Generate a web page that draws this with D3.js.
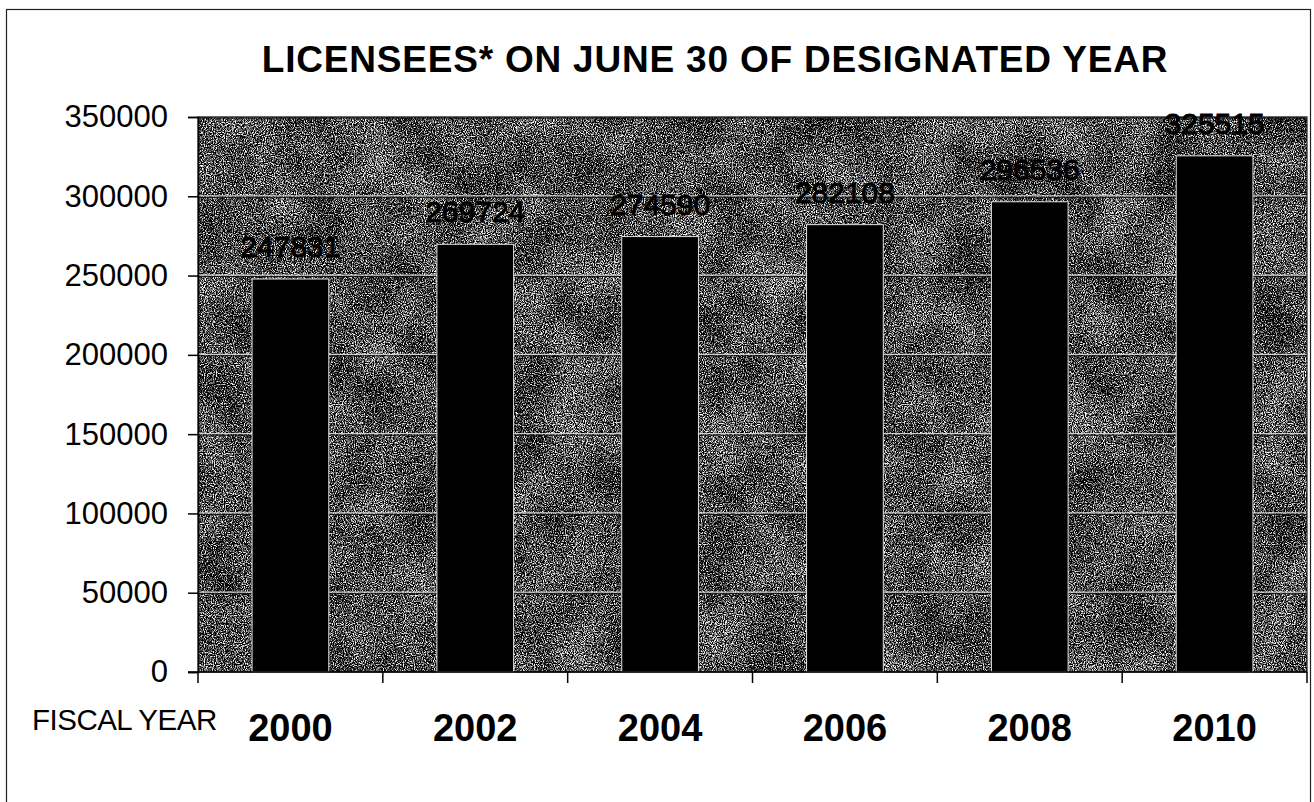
<!DOCTYPE html>
<html>
<head>
<meta charset="utf-8">
<script src="https://cdn.jsdelivr.net/npm/d3@7"></script>
<style>
  html, body { margin: 0; padding: 0; background: #fff; }
  svg { display: block; font-family: "Liberation Sans", Arial, sans-serif; }
</style>
</head>
<body>
<svg id="chart" width="1314" height="802"></svg>
<script>
const title = "LICENSEES* ON JUNE 30 OF DESIGNATED YEAR";
const years = ["2000", "2002", "2004", "2006", "2008", "2010"];
const licensees = [247831, 269724, 274590, 282108, 296536, 325515];
const yTicks = [0, 50000, 100000, 150000, 200000, 250000, 300000, 350000];
const xAxisTitle = "FISCAL YEAR";

const svg = d3.select("#chart");
const plot = { left: 198, right: 1307, top: 117, bottom: 672 };

// noise texture filter for plot background
const defs = svg.append("defs");
const f = defs.append("filter").attr("id", "noise")
  .attr("x", 0).attr("y", 0).attr("width", "100%").attr("height", "100%")
  .attr("color-interpolation-filters", "sRGB");
f.append("feTurbulence").attr("type", "fractalNoise")
  .attr("baseFrequency", "0.9").attr("numOctaves", 2).attr("seed", 3).attr("result", "fine");
f.append("feTurbulence").attr("type", "fractalNoise")
  .attr("baseFrequency", "0.02").attr("numOctaves", 2).attr("seed", 7).attr("result", "coarse");
f.append("feColorMatrix").attr("in", "fine").attr("type", "matrix")
  .attr("values", "1 0 0 0 0  1 0 0 0 0  1 0 0 0 0  0 0 0 0 1").attr("result", "fineG");
f.append("feColorMatrix").attr("in", "coarse").attr("type", "matrix")
  .attr("values", "1 0 0 0 0  1 0 0 0 0  1 0 0 0 0  0 0 0 0 1").attr("result", "coarseG");
f.append("feComposite").attr("in", "fineG").attr("in2", "coarseG")
  .attr("operator", "arithmetic").attr("k1", 0).attr("k2", 1).attr("k3", 0.18).attr("k4", -0.1).attr("result", "mix");
f.append("feColorMatrix").attr("in", "mix").attr("type", "matrix")
  .attr("values", "3.2 0 0 0 -1.3  3.2 0 0 0 -1.3  3.2 0 0 0 -1.3  0 0 0 0 1");

// outer border
svg.append("rect").attr("x", 6.5).attr("y", 9.5).attr("width", 1304).attr("height", 820)
  .attr("fill", "none").attr("stroke", "#222").attr("stroke-width", 1.2);

// title
svg.append("text").attr("x", 715).attr("y", 72).attr("text-anchor", "middle")
  .attr("font-size", 37).attr("font-weight", "bold").attr("fill", "#000")
  .attr("letter-spacing", 0.8).text(title);

const x = d3.scaleBand().domain(years).range([plot.left, plot.right]).paddingInner(0.585).paddingOuter(0.2925);
const y = d3.scaleLinear().domain([0, 350000]).range([plot.bottom, plot.top]);

// plot background
svg.append("rect").attr("x", plot.left).attr("y", plot.top)
  .attr("width", plot.right - plot.left).attr("height", plot.bottom - plot.top)
  .attr("fill", "#888").attr("filter", "url(#noise)");

// gridlines
const grid = svg.append("g");
yTicks.filter(d => d > 0).forEach(d => {
  grid.append("line").attr("x1", plot.left).attr("x2", plot.right)
    .attr("y1", y(d) - 0.5).attr("y2", y(d) - 0.5).attr("stroke", "#d0d0d0").attr("stroke-width", 1.2);
  grid.append("line").attr("x1", plot.left).attr("x2", plot.right)
    .attr("y1", y(d) + 1).attr("y2", y(d) + 1).attr("stroke", "#111").attr("stroke-width", 1);
});

// plot frame
svg.append("rect").attr("x", plot.left).attr("y", plot.top)
  .attr("width", plot.right - plot.left).attr("height", plot.bottom - plot.top)
  .attr("fill", "none").attr("stroke", "#222").attr("stroke-width", 1.2);

// bars
svg.append("g").selectAll("rect").data(licensees).join("rect")
  .attr("x", (d, i) => x(years[i]))
  .attr("y", d => y(d))
  .attr("width", x.bandwidth())
  .attr("height", d => y(0) - y(d))
  .attr("fill", "#000")
  .attr("stroke", "#e0e0e0").attr("stroke-width", 1);

// data labels
svg.append("g").selectAll("text").data(licensees).join("text")
  .attr("x", (d, i) => x(years[i]) + x.bandwidth() / 2)
  .attr("y", d => y(d) - 22)
  .attr("text-anchor", "middle")
  .attr("font-size", 30)
  .attr("fill", "#000")
  .attr("stroke", "#000").attr("stroke-width", 0.9)
  .text(d => d);

// y axis
const yAxis = svg.append("g").attr("transform", `translate(${plot.left},0)`)
  .call(d3.axisLeft(y).tickValues(yTicks).tickFormat(d => d).tickSize(10).tickPadding(20));
yAxis.select(".domain").attr("stroke", "#000").attr("stroke-width", 1.5);
yAxis.selectAll(".tick line").attr("stroke", "#000").attr("stroke-width", 1.5);
yAxis.selectAll(".tick text").attr("font-size", 31).attr("fill", "#000")
  .attr("font-family", "Liberation Sans, Arial, sans-serif");

// x axis: ticks at band boundaries
const bounds = years.map(d => x(d) - x.step() * x.paddingInner() / 2).concat([plot.right]);
const xAxisG = svg.append("g");
xAxisG.append("line").attr("x1", plot.left - 10).attr("x2", plot.right)
  .attr("y1", plot.bottom).attr("y2", plot.bottom).attr("stroke", "#000").attr("stroke-width", 1.5);
xAxisG.selectAll("line.tk").data(bounds).join("line").attr("class", "tk")
  .attr("x1", d => d).attr("x2", d => d)
  .attr("y1", plot.bottom).attr("y2", plot.bottom + 11)
  .attr("stroke", "#000").attr("stroke-width", 1.5);
xAxisG.selectAll("text").data(years).join("text")
  .attr("x", d => x(d) + x.bandwidth() / 2)
  .attr("y", 741)
  .attr("text-anchor", "middle")
  .attr("font-size", 38).attr("font-weight", "bold").attr("fill", "#000")
  .text(d => d);

// x axis title
svg.append("text").attr("x", 32).attr("y", 730)
  .attr("font-size", 29.5).attr("fill", "#000").attr("letter-spacing", -0.5)
  .text(xAxisTitle);
</script>
</body>
</html>
